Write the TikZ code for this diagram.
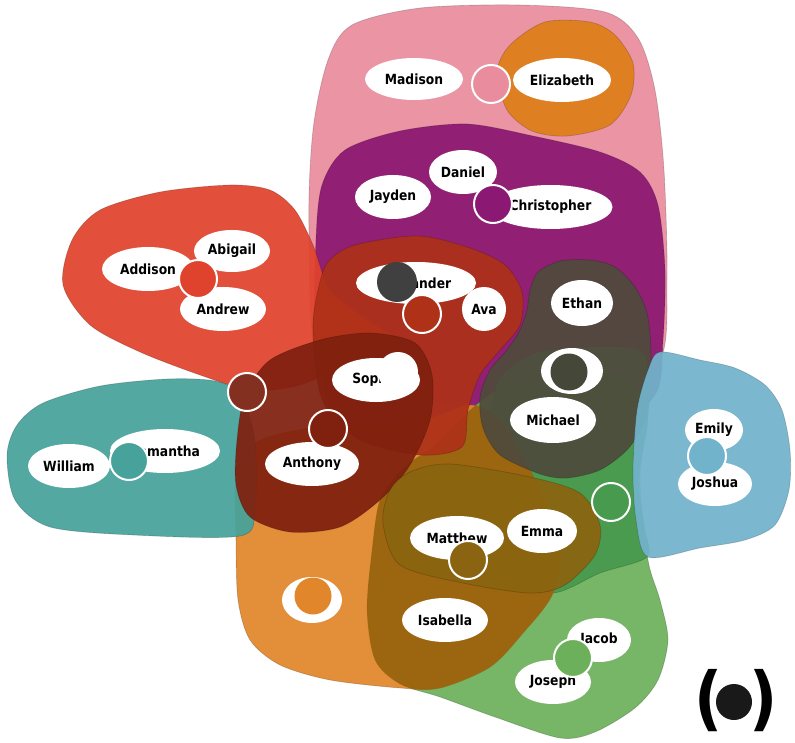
\documentclass[tikz,border=0pt]{standalone}
\usepackage{fontspec}
\usetikzlibrary{shapes.geometric}
\newfontfamily\lblfont{DejaVu Sans}[FakeStretch=0.88]
\definecolor{cpink}{HTML}{E98C9E}
\definecolor{celiz}{HTML}{DE7F19}
\definecolor{cpurple}{HTML}{8B1872}
\definecolor{cred}{HTML}{E0432D}
\definecolor{credbrown}{HTML}{AE3118}
\definecolor{cdarkred}{HTML}{80200F}
\definecolor{cteal}{HTML}{46A29B}
\definecolor{colive}{HTML}{4F4B3D}
\definecolor{cblue}{HTML}{72B3CC}
\definecolor{cdgreen}{HTML}{479A4E}
\definecolor{clgreen}{HTML}{6DB05C}
\definecolor{corange}{HTML}{E1862A}
\definecolor{cbrown}{HTML}{9C6611}
\definecolor{cmatt}{HTML}{8A6410}
\definecolor{cmix}{HTML}{843020}
\definecolor{cgray}{HTML}{404040}
\definecolor{cogray}{HTML}{454739}
\def\pathGreen{plot[smooth cycle] coordinates {(367,610) (372,550) (380,500) (403,468) (435,445) (470,410) (510,385) (600,375) (645,400) (640,480) (648,560) (660,600) (668,640) (658,680) (635,708) (595,732) (560,738) (495,717) (440,697) (400,684) (375,660)}}
\def\pathOrange{plot[smooth cycle] coordinates {(236,540) (237,470) (260,440) (330,425) (420,420) (470,405) (500,420) (530,470) (560,540) (553,593) (523,633) (490,667) (440,688) (400,688) (330,680) (280,665) (250,640) (238,600)}}
\tikzset{
  blob/.style={fill=#1, fill opacity=0.93, draw=black, draw opacity=0.18, line width=0.7pt},
  pname/.style={ellipse, fill=white, inner sep=0pt, font=\lblfont\bfseries\fontsize{14}{16}\selectfont, text=black},
  hub/.style={circle, draw=white, line width=2pt, inner sep=0pt, minimum size=38pt, fill=#1},
  dot/.style={circle, inner sep=0pt, minimum size=#1}
}
\begin{document}
\begin{tikzpicture}[x=1pt,y=-1pt]
\useasboundingbox (0,0) rectangle (795,743);
\fill[white] (0,0) rectangle (795,743);
% hyperedge regions
\path[blob=cpink] plot[smooth cycle] coordinates {(309,230) (313,130) (328,60) (352,25) (420,8) (520,5) (605,12) (638,38) (655,90) (664,170) (667,280) (660,360) (600,400) (400,400) (320,370)};
\path[blob=celiz] plot[smooth cycle] coordinates {(497,72) (510,45) (545,22) (590,22) (615,35) (633,63) (631,95) (610,125) (567,136) (532,131) (507,110)};
\path[blob=cpurple] plot[smooth cycle] coordinates {(316,240) (322,185) (345,150) (400,131) (467,124) (533,136) (600,152) (640,172) (658,205) (665,270) (663,340) (655,395) (600,430) (450,440) (340,420) (316,330)};
\path[blob=clgreen] \pathGreen;
\path[blob=cdgreen] plot[smooth cycle] coordinates {(490,420) (500,378) (540,352) (620,347) (646,358) (648,420) (638,480) (645,530) (647,557) (600,573) (553,593) (500,580) (470,540) (470,470)};
\path[blob=corange] \pathOrange;
\begin{scope}
\clip \pathOrange;
\fill[cbrown] \pathGreen;
\end{scope}
\path[blob=cred] plot[smooth cycle] coordinates {(63,285) (72,240) (100,210) (160,192) (230,185) (270,190) (295,210) (313,245) (330,290) (365,318) (400,343) (370,355) (300,385) (250,390) (200,375) (140,352) (90,325)};
\path[blob=credbrown] plot[smooth cycle] coordinates {(328,262) (355,245) (418,236) (470,248) (505,265) (522,292) (520,325) (500,350) (480,375) (468,410) (462,447) (420,455) (360,440) (322,400) (313,330) (318,290)};
\path[blob=cteal] plot[smooth cycle] coordinates {(7,455) (17,425) (43,403) (100,386) (167,379) (215,381) (240,395) (255,440) (255,510) (240,536) (133,535) (50,527) (15,500)};
\path[blob=cdarkred] plot[smooth cycle] coordinates {(237,440) (245,395) (270,360) (320,340) (370,333) (415,343) (432,375) (430,420) (410,465) (380,500) (340,527) (290,532) (250,517) (236,485)};
\path[blob=cmatt] plot[smooth cycle] coordinates {(383,523) (390,490) (410,472) (450,464) (530,477) (580,493) (600,525) (595,555) (565,585) (530,593) (463,583) (400,565)};
\path[blob=colive] plot[smooth cycle] coordinates {(530,290) (538,272) (560,261) (590,260) (615,267) (635,287) (647,313) (651,350) (650,397) (643,425) (627,450) (600,470) (567,478) (540,474) (500,455) (483,428) (480,397) (490,370) (507,350) (520,330) (527,310)};
\path[blob=cblue] plot[smooth cycle] coordinates {(633,470) (637,410) (648,370) (660,352) (700,360) (735,368) (765,385) (782,410) (790,450) (789,490) (775,525) (745,540) (700,548) (648,557) (636,520)};
% name nodes
\node[pname, minimum width=98pt, minimum height=42pt] (madison) at (414,79) {Madison};
\node[pname, minimum width=98pt, minimum height=44pt] (elizabeth) at (562,80) {Elizabeth};
\node[pname, minimum width=68pt, minimum height=44pt] (daniel) at (463,172) {Daniel};
\node[pname, minimum width=76pt, minimum height=44pt] (jayden) at (393,197) {Jayden};
\node[pname, minimum width=124pt, minimum height=44pt] (christopher) at (550.5,207) {Christopher};
\node[pname, minimum width=76pt, minimum height=42pt] (abigail) at (232,251) {Abigail};
\node[pname, minimum width=92pt, minimum height=44pt] (addison) at (148,269) {Addison};
\node[pname, minimum width=86pt, minimum height=44pt] (andrew) at (223,309) {Andrew};
\node[pname, minimum width=120pt, minimum height=42pt] (alexander) at (416,283) {Alexander};
\node[pname, minimum width=44pt, minimum height=44pt] (ava) at (484,309) {Ava};
\node[pname, minimum width=62pt, minimum height=46pt] (ethan) at (582,303) {Ethan};
\node[pname, minimum width=62pt, minimum height=46pt] (hidden1) at (572,371) {};
\node[pname, minimum width=86pt, minimum height=46pt] (michael) at (553,420) {Michael};
\node[pname, minimum width=88pt, minimum height=44pt] (sophia) at (376,380) {Sophia};
\node[pname, minimum width=94pt, minimum height=44pt] (anthony) at (312,464) {Anthony};
\node[pname, minimum width=82pt, minimum height=44pt] (william) at (69,466) {William};
\node[pname, minimum width=110pt, minimum height=44pt] (samantha) at (165,451) {Samantha};
\node[pname, minimum width=58pt, minimum height=42pt] (emily) at (714,430) {Emily};
\node[pname, minimum width=74pt, minimum height=44pt] (joshua) at (715,484) {Joshua};
\node[pname, minimum width=94pt, minimum height=44pt] (matthew) at (457,538) {Matthew};
\node[pname, minimum width=70pt, minimum height=44pt] (emma) at (542,531) {Emma};
\node[pname, minimum width=60pt, minimum height=46pt] (hidden2) at (312,600) {};
\node[pname, minimum width=86pt, minimum height=44pt] (isabella) at (445,620) {Isabella};
\node[pname, minimum width=64pt, minimum height=44pt] (jacob) at (599,640) {Jacob};
\node[pname, minimum width=76pt, minimum height=44pt] (joseph) at (553,682) {Joseph};
% covering dots
\node[dot=40pt, fill=cgray] (gdot) at (397,282) {};
\node[dot=40pt, fill=white] (wdot) at (398,372) {};
\node[dot=37pt, fill=cogray] (odot) at (569,372) {};
\node[dot=37pt, fill=corange] (ordot) at (313,596) {};
% hyperedge hubs
\node[hub=cpink] (hpink) at (491,84) {};
\node[hub=cpurple] (hpurple) at (493,204) {};
\node[hub=cred] (hred) at (198,279) {};
\node[hub=credbrown] (hredbrown) at (422,314) {};
\node[hub=cmix] (hmix) at (247,392) {};
\node[hub=cdarkred] (hdarkred) at (328,429) {};
\node[hub=cteal] (hteal) at (129,461) {};
\node[hub=cblue] (hblue) at (707,456) {};
\node[hub=cdgreen] (hdgreen) at (611,502) {};
\node[hub=cmatt] (hmatt) at (468,560) {};
\node[hub=clgreen] (hlgreen) at (573,658) {};
% legend
\node[font=\lblfont\bfseries\fontsize{70}{70}\selectfont, inner sep=0pt] (lparen) at (709,701) {(};
\node[font=\lblfont\bfseries\fontsize{70}{70}\selectfont, inner sep=0pt] (rparen) at (764,701) {)};
\node[dot=36pt, fill=black!90] (ldot) at (734,702) {};
\end{tikzpicture}
\end{document}
